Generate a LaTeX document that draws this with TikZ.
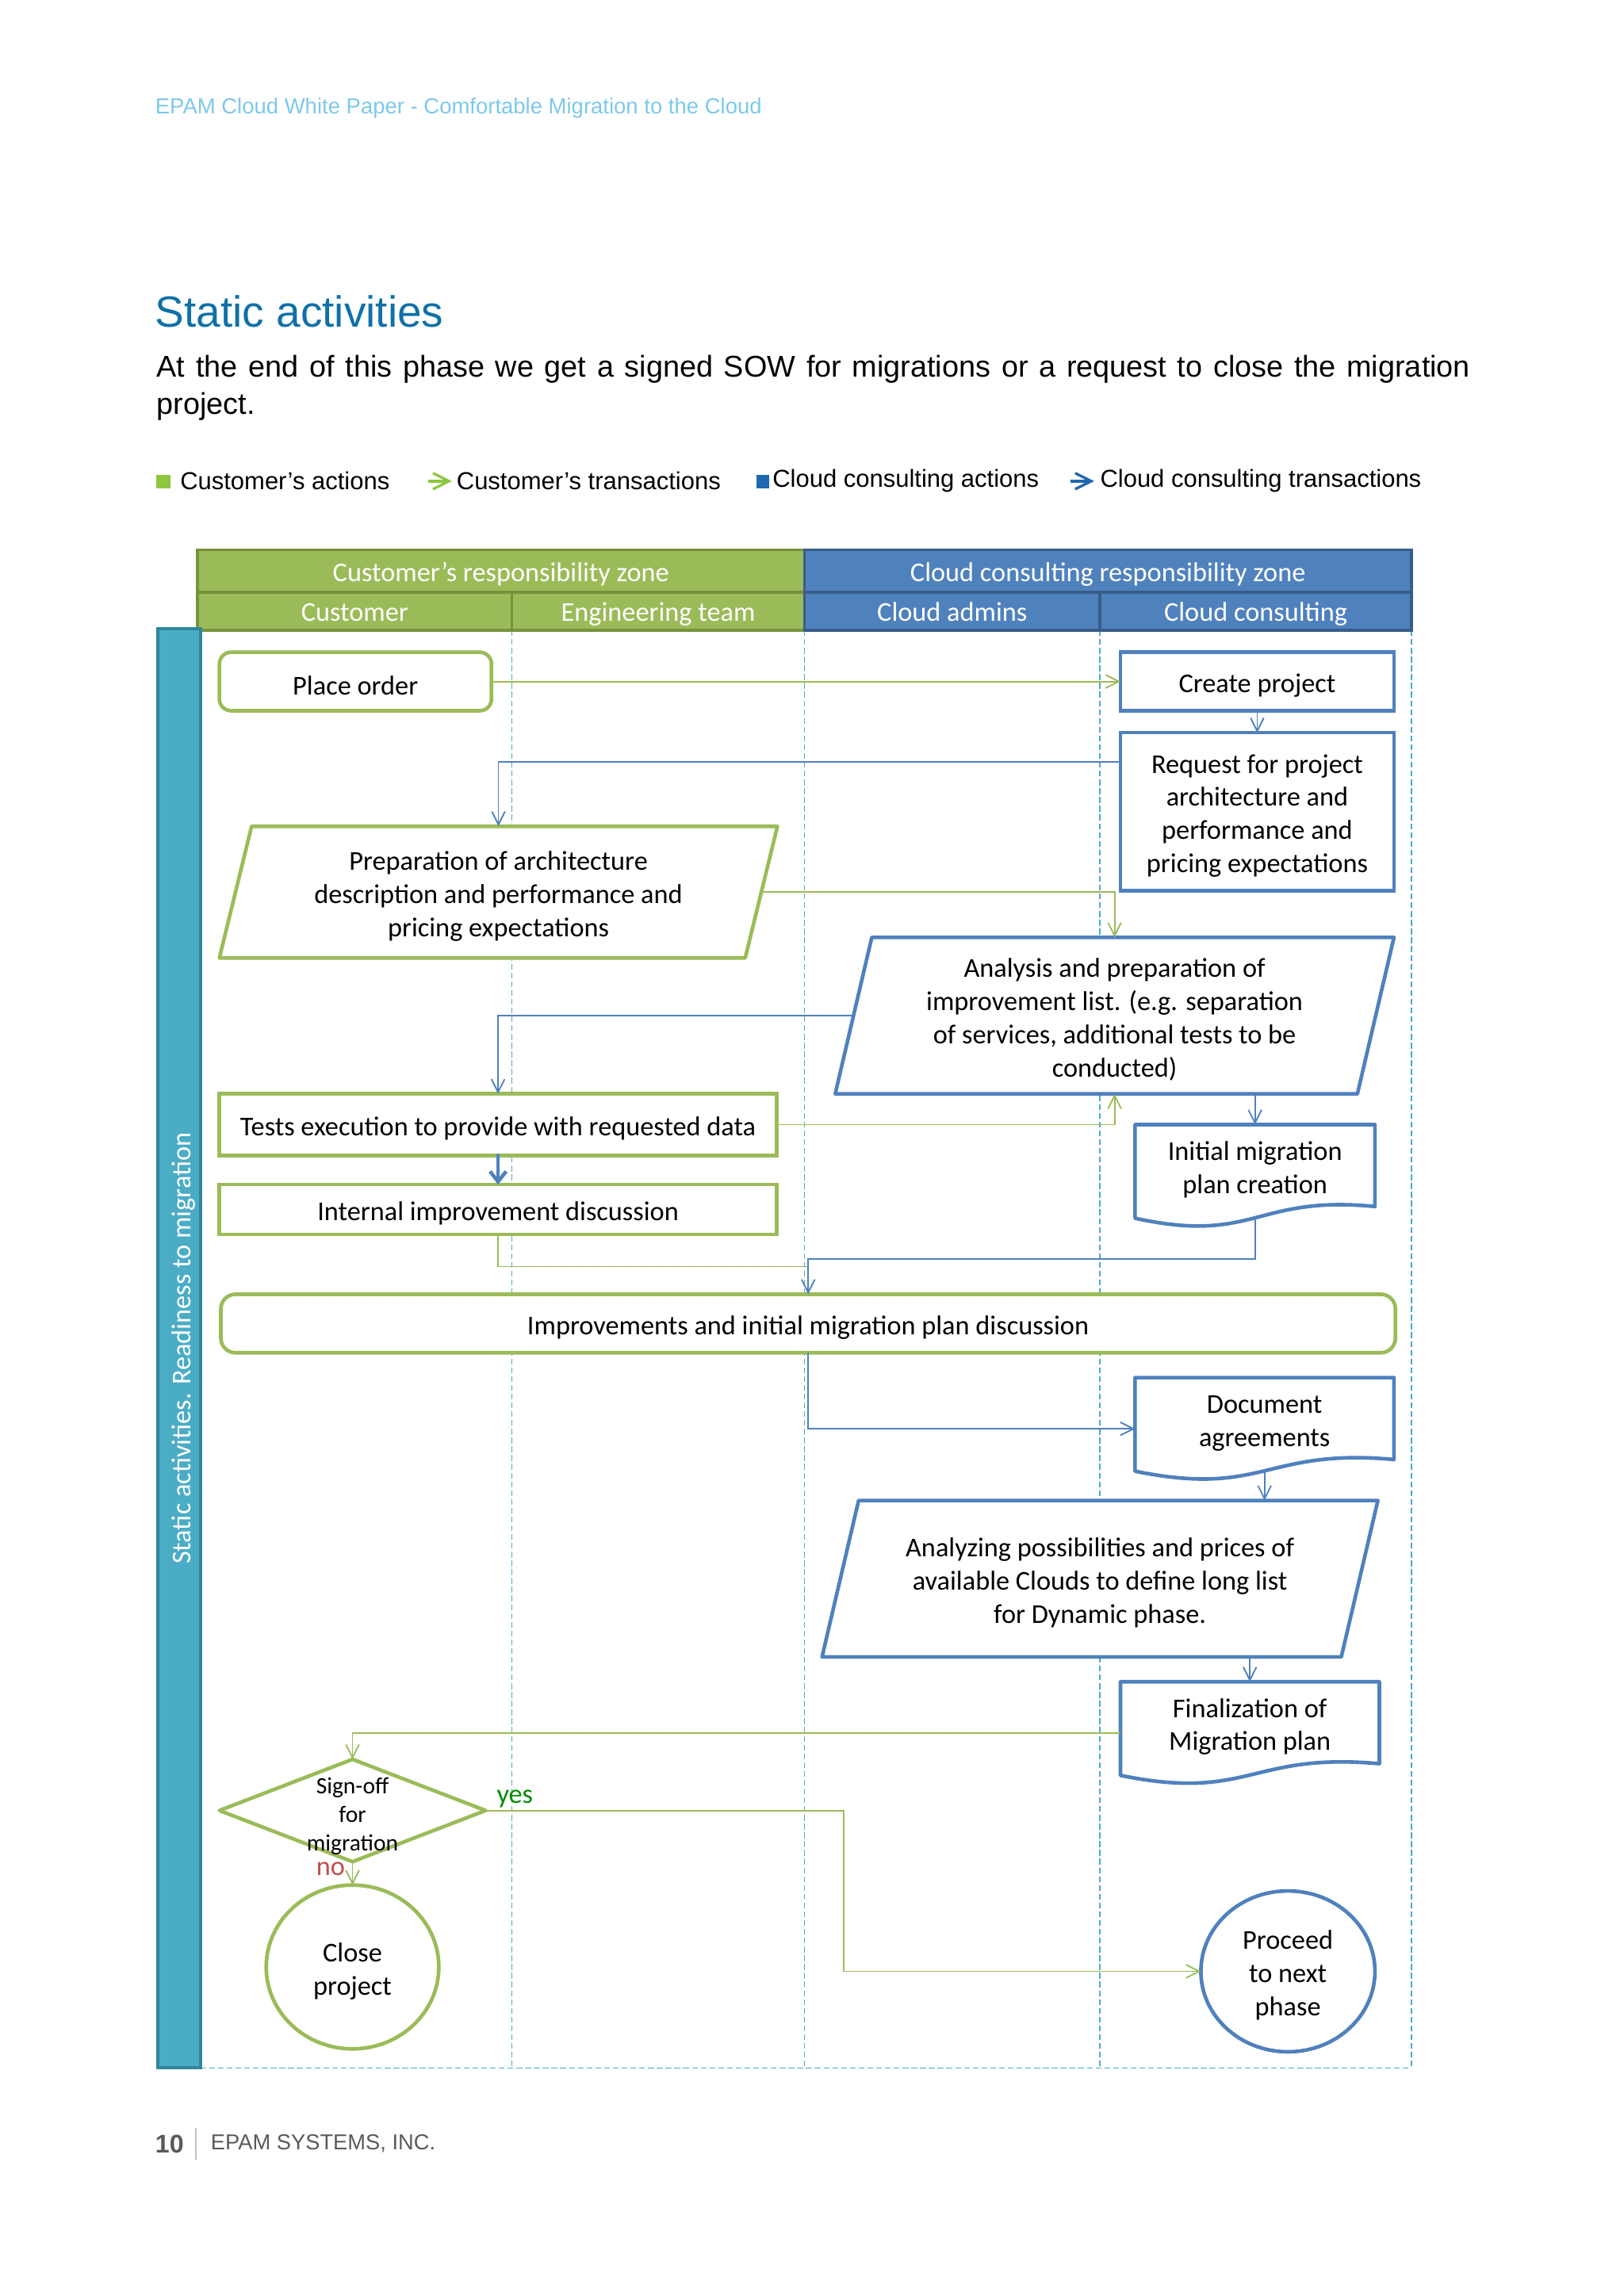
\documentclass[tikz,border=0pt]{standalone}
\usepackage{fontspec}
\setmainfont{Liberation Sans}
\newfontfamily\calibri{Carlito}
\usetikzlibrary{positioning,shapes.geometric,arrows.meta}

\definecolor{custgreen}{RGB}{155,187,89}
\definecolor{custgreendk}{RGB}{118,146,60}
\definecolor{consblue}{RGB}{79,129,189}
\definecolor{consbluedk}{RGB}{56,93,138}
\definecolor{laneteal}{RGB}{75,172,198}
\definecolor{lanetealdk}{RGB}{49,133,156}
\definecolor{titleblue}{RGB}{16,112,168}
\definecolor{headblue}{RGB}{125,200,235}
\definecolor{leggreen}{RGB}{141,198,63}
\definecolor{legblue}{RGB}{30,104,176}
\definecolor{yesgreen}{RGB}{0,140,0}
\definecolor{nored}{RGB}{192,80,77}
\definecolor{footgray}{RGB}{90,90,90}

\pgfdeclarelayer{lanes}
\pgfdeclarelayer{outlines}
\pgfsetlayers{lanes,outlines,main}

% first-line strut, sets text a little lower
\newcommand{\lift}{\rule{0pt}{18.5pt}}
% slanted data box round a node
\newcommand{\slantbox}[3]{%
  \draw[#2] ([xshift=#3]#1.north west) -- ([xshift=#3]#1.north east)
    -- ([xshift=-#3]#1.south east) -- ([xshift=-#3]#1.south west) -- cycle;}
% document box with wavy bottom
\newcommand{\docbox}[2]{%
  \draw[#2] (#1.north west) -- (#1.north east) -- (#1.south east)
    .. controls ([yshift=8pt]#1.south) and ([yshift=-26pt]#1.south) .. ([yshift=-8pt]#1.south west) -- cycle;}

\tikzset{
  txt/.style={inner sep=0pt, outer sep=0pt, align=center, font=\calibri\fontsize{18.6}{22.7}\selectfont,
    execute at begin node={\lift}},
  lbl/.style={inner sep=0pt, font=\calibri\fontsize{18.6}{22.7}\selectfont},
  gbox/.style={txt, draw=custgreen, line width=2.5pt, fill=white},
  bbox/.style={txt, draw=consblue, line width=2.5pt, fill=white},
  gshape/.style={draw=custgreen, line width=2.5pt, fill=white, line join=round},
  bshape/.style={draw=consblue, line width=2.5pt, fill=white, line join=round},
  zonegreen/.style={txt, text=white, fill=custgreen, draw=custgreendk, line width=2pt, text height=14pt, text depth=0pt},
  zoneblue/.style={txt, text=white, fill=consblue, draw=consbluedk, line width=2pt, text height=14pt, text depth=0pt},
  lane/.style={draw=laneteal, line width=0.8pt, dash pattern=on 4pt off 2pt},
  gline/.style={draw=custgreen, line width=1pt, -{Straight Barb[length=9pt,width=9pt]}},
  bline/.style={draw=consblue, line width=1pt, -{Straight Barb[length=9pt,width=9pt]}},
  legtext/.style={anchor=west, inner sep=0pt, font=\fontsize{16.8}{20}\selectfont},
  legarrow/.style={line width=1.8pt, -{Straight Barb[length=11pt,width=11pt]}}
}

\begin{document}
\begin{tikzpicture}[x=1pt, y=-1pt]
\useasboundingbox (0,0) rectangle (1110,1570);

% page text
\node[anchor=west, inner sep=0pt, text=headblue, font=\fontsize{14.9}{17}\selectfont] (head) at (106,74) {EPAM Cloud White Paper - Comfortable Migration to the Cloud};
\node[anchor=west, inner sep=0pt, text=titleblue, font=\fontsize{29.8}{34}\selectfont] (title) at (106,213) {Static activities};
\node[anchor=base west, inner sep=0pt, text width=898pt, align=justify, font=\fontsize{20.5}{25}\selectfont] (intro) at (107,258) {At the end of this phase we get a signed SOW for migrations or a request to close the migration\linebreak project.};

% legend
\fill[leggreen] (107,324.5) rectangle (116.5,334);
\node[legtext] (legcact) at (123,329) {Customer’s actions};
\draw[leggreen, legarrow] (293,329) -- (309,329);
\node[legtext] (legctrans) at (312,329) {Customer’s transactions};
\fill[legblue] (517,324.5) rectangle (526,334);
\node[legtext] (legbact) at (528,329) {Cloud consulting actions};
\draw[legblue, legarrow] (732,329) -- (748,329);
\node[legtext] (legbtrans) at (752,329) {Cloud consulting transactions};

% zones and lanes
\node[zonegreen, minimum width=415pt, minimum height=29pt] (custzone) at (342.5,390.5) {Customer’s responsibility zone};
\node[zoneblue, minimum width=415pt, minimum height=29pt, right=0pt of custzone] (conszone) {Cloud consulting responsibility zone};
\node[zonegreen, minimum width=215pt, minimum height=26pt, anchor=north west] (customer) at (custzone.south west) {Customer};
\node[zonegreen, minimum width=200pt, minimum height=26pt, right=0pt of customer] (engteam) {Engineering team};
\node[zoneblue, minimum width=202pt, minimum height=26pt, right=0pt of engteam] (admins) {Cloud admins};
\node[zoneblue, minimum width=213pt, minimum height=26pt, right=0pt of admins] (consult) {Cloud consulting};
\node[txt, rotate=90, text=white, fill=laneteal, draw=lanetealdk, line width=2pt, minimum width=984pt, minimum height=29pt] (bar) at (122.5,922) {Static activities. Readiness to migration};

\coordinate (bottom) at (137,1414);
\begin{pgfonlayer}{lanes}
\draw[lane] (customer.south east) -- (customer.south east |- bottom);
\draw[lane] (engteam.south east) -- (engteam.south east |- bottom);
\draw[lane] (admins.south east) -- (admins.south east |- bottom);
\draw[lane] (consult.south east) -- (consult.south east |- bottom);
\draw[lane] (bottom) -- (consult.south east |- bottom);
\end{pgfonlayer}

% customer's actions
\node[gbox, rounded corners=8pt, minimum width=186pt, minimum height=40pt] (place) at (243,466) {Place order};
\node[txt, minimum width=359.5pt, minimum height=90pt] (prep) at (340.75,610) {\lift Preparation of architecture\\description and performance and\\pricing expectations};
\node[gbox, minimum width=381pt, minimum height=42pt] (tests) at (340.5,769) {Tests execution to provide with requested data};
\node[gbox, minimum width=381pt, minimum height=34pt] (internal) at (340.5,827) {Internal improvement discussion};
\node[gbox, rounded corners=10pt, minimum width=803pt, minimum height=40pt] (improv) at (552.5,905) {Improvements and initial migration plan discussion};
\node[txt, minimum width=182pt, minimum height=70pt, font=\calibri\fontsize{16}{19.5}\selectfont] (sign) at (241,1238) {\lift Sign-off\\for\\migration};
\node[gbox, ellipse, minimum width=118pt, minimum height=112pt] (close) at (241,1345) {\lift Close\\project};

% cloud consulting actions
\node[bbox, minimum width=187pt, minimum height=40pt] (create) at (859.5,466) {Create project};
\node[bbox, minimum width=187pt, minimum height=108pt] (request) at (859.5,555) {\lift Request for project\\architecture and\\performance and\\pricing expectations};
\node[txt, minimum width=357pt, minimum height=107pt] (ana) at (762,694.5) {\lift Analysis and preparation of\\improvement list. (e.g. separation\\of services, additional tests to be\\conducted)};
\node[txt, minimum width=164pt, minimum height=56pt] (init) at (858,797) {\lift Initial migration\\plan creation};
\node[txt, minimum width=177pt, minimum height=56pt] (docag) at (864.5,970) {\lift Document\\agreements};
\node[txt, minimum width=355pt, minimum height=107pt] (anz) at (752,1079.5) {\lift Analyzing possibilities and prices of\\available Clouds to define long list\\for Dynamic phase.};
\node[txt, minimum width=177pt, minimum height=56pt] (final) at (854.5,1178) {\lift Finalization of\\Migration plan};
\node[bbox, ellipse, minimum width=119pt, minimum height=110pt] (proceed) at (880.5,1348) {\lift Proceed\\to next\\phase};

\begin{pgfonlayer}{outlines}
\slantbox{prep}{gshape}{11pt}
\slantbox{ana}{bshape}{12.5pt}
\slantbox{anz}{bshape}{12.5pt}
\docbox{init}{bshape}
\docbox{docag}{bshape}
\docbox{final}{bshape}
\draw[gshape] (sign.north) -- (sign.east) -- (sign.south) -- (sign.west) -- cycle;
\end{pgfonlayer}

\node[lbl, text=yesgreen] (yes) at (352,1230) {yes};
\node[lbl, text=nored] (no) at (226,1278) {no};

% customer's transactions
\coordinate (meet) at (552.5,866);
\draw[gline] (place) -- (create);
\draw[gline] (prep.east) -| (ana.north);
\draw[gline] (tests) -| (ana.south);
\draw[gline, -] (internal.south) |- (meet);
\draw[gline] ([yshift=-7pt]final.west) -| (sign.north);
\draw[gline] (sign.south) -- (close.north);
\draw[gline] (sign.east) -- ++(245,0) |- (proceed.west);

% cloud consulting transactions
\draw[bline] (create) -- (request);
\draw[bline] ([yshift=-20pt]request.north west) -| (prep.north);
\draw[bline] (ana.west) -| (tests.north);
\draw[bline] (init.north |- ana.south) -- (init.north);
\draw[bline, line width=2.5pt, line cap=round, -{Straight Barb[length=7pt,width=11pt]}] (tests) -- (internal);
\draw[bline] ([yshift=-8pt]init.south) -- ++(0,28) -| (improv.north);
\draw[bline] (improv.south) |- ([yshift=-7pt]docag.west);
\draw[bline] ([yshift=-8pt]docag.south) -- (docag.south |- anz.north);
\draw[bline] (final.north |- anz.south) -- (final.north);

% footer
\node[anchor=west, inner sep=0pt, text=footgray, font=\bfseries\fontsize{17.5}{20}\selectfont] (pagenum) at (106,1466) {10};
\draw[black!25, line width=0.8pt] (134,1455) -- (134,1477);
\node[anchor=west, inner sep=0pt, text=footgray, font=\fontsize{14.8}{18}\selectfont] (company) at (144,1466) {EPAM SYSTEMS, INC.};
\end{tikzpicture}
\end{document}
